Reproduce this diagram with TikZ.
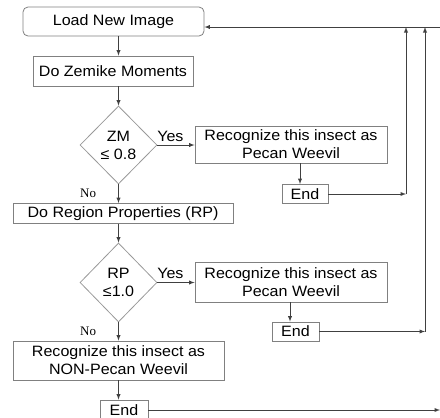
\documentclass[tikz,border=0pt]{standalone}
\usepackage{fontspec}
\setmainfont{Liberation Sans}[FakeStretch=1.07]
\newfontfamily\serifno{Liberation Serif}
\usetikzlibrary{arrows,shapes.geometric,positioning}

\begin{document}
\begin{tikzpicture}[x=1pt, y=-1pt, >=latex,
    every node/.style={font=\fontsize{15}{18}\selectfont},
    box/.style={draw=gray, line width=0.8pt, rectangle, inner sep=0pt, align=center},
    decide/.style={draw=gray!80, line width=0.8pt, diamond, aspect=1, inner sep=0pt,
                   minimum width=77pt, minimum height=78pt, align=center},
    arr/.style={->, draw=black!75, line width=0.9pt},
    no/.style={font=\serifno\fontsize{13}{15}\selectfont, inner sep=0pt, text=black}]
      \useasboundingbox (0,0) rectangle (440,418);

      \node[box, rounded corners=5pt, minimum width=181pt, minimum height=29pt] (load) at (113.5,21.5) {Load New Image};
      \node[box, minimum width=160pt, minimum height=30pt] (zern) at (113,71) {Do Zemike Moments};
      \node[decide] (zm) at (118.5,145) {ZM\\≤ 0.8};
      \node[box, minimum width=192pt, minimum height=37pt] (rec1) at (291,144.5) {Recognize this insect as\\Pecan Weevil};
      \node[box, minimum width=46pt, minimum height=19pt] (end1) at (305,194) {End};
      \node[box, minimum width=220pt, minimum height=20pt] (rp) at (123,213.5) {Do Region Properties (RP)};
      \node[decide, minimum height=79pt] (rpd) at (118.5,282.5) {RP\\≤1.0};
      \node[box, minimum width=192pt, minimum height=40pt] (rec2) at (291,282) {Recognize this insect as\\Pecan Weevil};
      \node[box, minimum width=47pt, minimum height=19pt] (end2) at (295.5,331.5) {End};
      \node[box, minimum width=211pt, minimum height=39pt] (non) at (118.5,360.5) {Recognize this insect as\\NON-Pecan Weevil};
      \node[box, minimum width=48pt, minimum height=20pt] (end3) at (124,410) {End};

      \coordinate (top) at (440,27);
      \coordinate (j1) at (406,194);
      \coordinate (j2) at (425,331.5);
      \coordinate (out) at (440,410);

      % main line
      \draw[arr] (load.south -| zm) -- (zern.north -| zm);
      \draw[arr] (zern.south -| zm) -- (zm.north);
      \draw[arr] (zm.south) -- node[no, left=22pt] {No} (rp.north -| zm);
      \draw[arr] (rp.south -| zm) -- (rpd.north);
      \draw[arr] (rpd.south) -- node[no, left=22pt] {No} (non.north -| rpd);
      \draw[arr] (non.south -| rpd) -- (end3.north -| rpd);
      \draw[arr] (end3.east) -- (out);

      % yes branches
      \draw[arr] (zm.east) -- node[above, pos=0.35] {Yes} (zm.east -| rec1.west);
      \draw[arr] ([xshift=-5pt]rec1.south -| end1.north) -- ([xshift=-5pt]end1.north);
      \draw[arr] (rpd.east) -- node[above, pos=0.35] {Yes} (rpd.east -| rec2.west);
      \draw[arr] ([xshift=-5.5pt]rec2.south -| end2.north) -- ([xshift=-5.5pt]end2.north);

      % back to the start
      \draw[arr] (end1.east) -- (j1);
      \draw[arr] (j1) -- (j1 |- top);
      \draw[arr] (end2.east) -- (j2);
      \draw[arr] (j2) -- (j2 |- top);
      \draw[arr] (top) -- (top -| load.east);
    \end{tikzpicture}
\end{document}
